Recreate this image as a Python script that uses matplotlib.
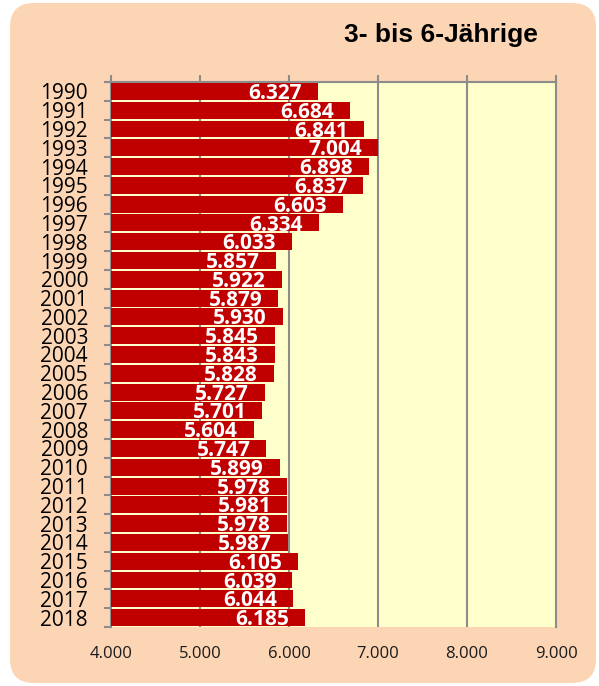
import numpy as np
import matplotlib
matplotlib.use('Agg')
import matplotlib.pyplot as plt
from matplotlib.patches import FancyBboxPatch

years = [str(y) for y in range(1990, 2019)]
values = [6327, 6684, 6841, 7004, 6898, 6837, 6603, 6334, 6033, 5857,
          5922, 5879, 5930, 5845, 5843, 5828, 5727, 5701, 5604, 5747,
          5899, 5978, 5981, 5978, 5987, 6105, 6039, 6044, 6185]
xticks = [4000, 5000, 6000, 7000, 8000, 9000]
xtick_labels = ['4.000', '5.000', '6.000', '7.000', '8.000', '9.000']
title = '3- bis 6-Jährige'

W, H = 599, 686
fig = plt.figure(figsize=(W / 100, H / 100), dpi=100)
fig.patch.set_facecolor('white')

# rounded peach background
bg = FancyBboxPatch((10 / W, 3 / H), 586 / W, 680 / H,
                    boxstyle='round,pad=0,rounding_size=0.04',
                    transform=fig.transFigure, facecolor='#FCD5B5',
                    edgecolor='none', zorder=-5, mutation_aspect=W / H)
fig.patches.append(bg)

fig.text(440.5 / W, 1 - 42 / H, title, fontsize=19, fontweight='bold',
         family='Liberation Sans', ha='center', va='baseline')

ax = fig.add_axes([111 / W, 1 - 627 / H, 445 / W, 545 / H])
ax.set_zorder(2)
ax.set_facecolor('#FFFFCC')

y = np.arange(len(years))
ax.barh(y, values, height=0.9, left=0, color='#C00000', zorder=3)
ax.set_xlim(4000, 9000)
ax.set_ylim(len(years) - 0.5, -0.5)

for yi, v in zip(y, values):
    ax.annotate(f'{v / 1000:.3f}', xy=(v, yi), xytext=(-11.5, -1.5),
                textcoords='offset points', ha='right', va='center',
                color='white', fontsize=15, fontweight='bold',
                family='Open Sans', zorder=4)

# vertical gridlines
for xv in xticks[1:-1]:
    ax.axvline(xv, color='#8C8C8C', lw=1.5, zorder=1)

for s in ['left', 'top', 'right']:
    ax.spines[s].set_color('#8C8C8C')
    ax.spines[s].set_linewidth(1.5)
ax.spines['bottom'].set_visible(False)

ax.set_xticks(xticks)
ax.set_xticklabels(xtick_labels, family='Open Sans', fontsize=12, color='#1a1a1a')
ax.tick_params(axis='x', top=True, bottom=False, labeltop=False,
               labelbottom=True, length=5, width=1.5, color='#8C8C8C',
               direction='out', pad=9)

ax.set_yticks(y)
ax.set_yticklabels(years, family='Open Sans', fontsize=15)
ax.set_yticks(np.arange(len(years) + 1) - 0.5, minor=True)
ax.tick_params(axis='y', which='major', length=0, pad=16.5)
ax.tick_params(axis='y', which='minor', length=5, width=1.5,
               color='#8C8C8C', direction='out')

fig.savefig('out.png', dpi=100, facecolor=fig.get_facecolor())
